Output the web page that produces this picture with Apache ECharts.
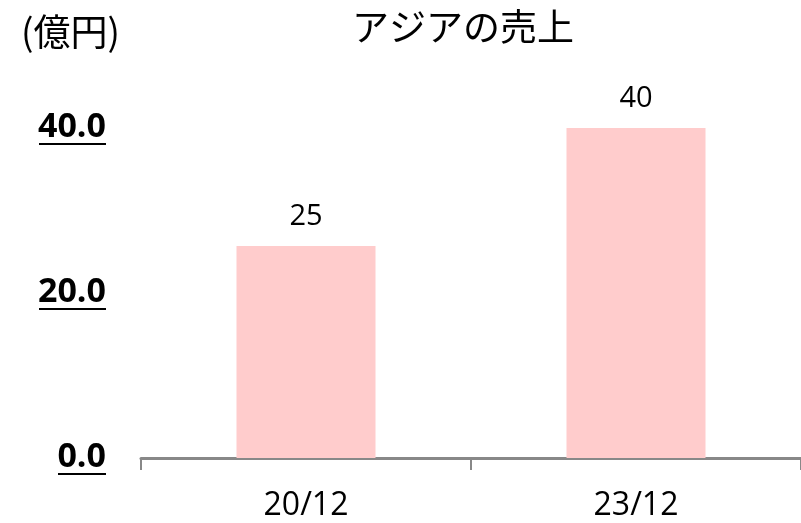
<!DOCTYPE html>
<html>
<head>
<meta charset="utf-8">
<script src="https://cdn.jsdelivr.net/npm/echarts@6/dist/echarts.min.js"></script>
<style>
html,body{margin:0;padding:0;background:#fff;}
#chart{width:801px;height:523px;}
</style>
</head>
<body>
<div id="chart"></div>
<script>
const categories = ['20/12', '23/12'];
const values = [25.7, 40];
const valueLabels = ['25', '40'];
const yTicks = [0, 20, 40];
const titleText = 'アジアの売上';
const unitText = '(億円)';

const latin = '"Open Sans", "Noto Sans", sans-serif';
const cjk = '"Noto Sans CJK JP", "Noto Sans", sans-serif';

const chart = echarts.init(document.getElementById('chart'), null, {renderer: 'canvas'});
chart.setOption({
  animation: false,
  backgroundColor: '#ffffff',
  title: [
    {text: titleText, left: 463, top: 8, textAlign: 'center', padding: 0,
     textStyle: {fontFamily: cjk, fontSize: 37, fontWeight: 'normal', color: '#000', lineHeight: 38}},
    {text: unitText, left: 21, top: 13, padding: 0,
     textStyle: {fontFamily: cjk, fontSize: 37, fontWeight: 'normal', color: '#000', lineHeight: 38}}
  ],
  grid: {left: 141, right: 0, top: 128, bottom: 65, containLabel: false},
  xAxis: {
    type: 'category',
    data: categories,
    boundaryGap: true,
    axisLine: {show: true, lineStyle: {color: '#888888', width: 3}},
    axisTick: {show: true, alignWithLabel: false, length: 12, lineStyle: {color: '#888888', width: 2}},
    axisLabel: {margin: 32, color: '#000', fontFamily: latin, fontSize: 32, lineHeight: 32}
  },
  yAxis: {
    type: 'value',
    min: yTicks[0],
    max: yTicks[yTicks.length - 1],
    interval: yTicks[1] - yTicks[0],
    axisLine: {show: false},
    axisTick: {show: false},
    splitLine: {show: false},
    axisLabel: {
      margin: 35,
      formatter: function (v) {
        const s = v.toFixed(1);
        return '{t|' + s + '}\n{u' + s.length + '|}';
      },
      rich: {
        t: {fontFamily: latin, fontSize: 34, fontWeight: 'bold', color: '#000', lineHeight: 32},
        u3: {width: 48, height: 2, lineHeight: 2, backgroundColor: '#000'},
        u4: {width: 67, height: 2, lineHeight: 2, backgroundColor: '#000'}
      }
    }
  },
  series: [{
    type: 'bar',
    data: values,
    barWidth: 139,
    itemStyle: {color: '#FFCCCC'},
    label: {
      show: true,
      position: 'top',
      distance: 14,
      formatter: function (p) { return valueLabels[p.dataIndex]; },
      fontFamily: latin,
      fontSize: 29,
      lineHeight: 30,
      color: '#000'
    }
  }]
});
</script>
</body>
</html>
